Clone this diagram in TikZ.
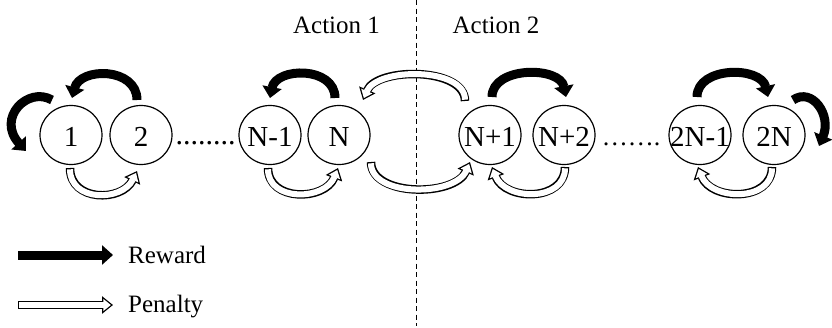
\documentclass[tikz,border=0pt]{standalone}
\usepackage{fontspec}
\setmainfont{Liberation Serif}
\usetikzlibrary{arrows.meta,shapes.geometric,calc}

% hollow block arrow: black outline pass, then white core pass
\newcommand\penaltyarrow[1]{\draw[penout] #1; \draw[penin] #1;}

\begin{document}
\begin{tikzpicture}[x=1pt,y=-1pt,
  state/.style={ellipse, draw, line width=1.2pt, minimum width=62pt, minimum height=59pt, inner sep=0pt},
  statelabel/.style={anchor=base, font=\fontsize{29}{31}\selectfont, inner sep=0pt},
  caption/.style={anchor=base, font=\fontsize{25}{27}\selectfont, inner sep=0pt},
  gapdots/.style={anchor=base, inner sep=0pt},
  reward/.style={line width=9pt, -{Triangle[width=19pt,length=11pt]}},
  penout/.style={line width=8.5pt, -{Triangle[width=17pt,length=11pt]}},
  penin/.style={white, line width=6pt, shorten <=1.3pt, shorten >=2.1pt, -{Triangle[width=11.7pt,length=7.6pt]}},
  divider/.style={line width=1pt, dash pattern=on 5pt off 3.5pt}
]
\useasboundingbox (0,0) rectangle (832,327);

% states
\node[state] (s1)   at (71,135)  {};
\node[state] (s2)   at (141,135) {};
\node[state] (sNm)  at (270,135) {};
\node[state] (sN)   at (339,135) {};
\node[state] (sNp1) at (490,135) {};
\node[state] (sNp2) at (564,135) {};
\node[state] (s2Nm) at (700,135) {};
\node[state] (s2N)  at (774,135) {};

\node[statelabel] (l1)   at ($(s1)+(0,11)$)   {1};
\node[statelabel] (l2)   at ($(s2)+(0,11)$)   {2};
\node[statelabel] (lNm)  at ($(sNm)+(0,11)$)  {N-1};
\node[statelabel] (lN)   at ($(sN)+(0,11)$)   {N};
\node[statelabel] (lNp1) at ($(sNp1)+(0,11)$) {N+1};
\node[statelabel] (lNp2) at ($(sNp2)+(0,11)$) {N+2};
\node[statelabel] (l2Nm) at ($(s2Nm)+(0,11)$) {2N-1};
\node[statelabel] (l2N)  at ($(s2N)+(0,11)$)  {2N};

% omitted states
\node[gapdots, font=\fontsize{30}{32}\selectfont] (gapA) at (205.5,144) {........};
\node[gapdots, font=\fontsize{26}{28}\selectfont] (gapB) at (631,145) {…….};

% action regions
\coordinate (d0) at (416,0);
\coordinate (d1) at (416,326);
\draw[divider] (d0) -- (d1);
\node[caption] (act1) at (336.5,33) {Action 1};
\node[caption] (act2) at (496,33) {Action 2};

% reward transitions
\draw[reward] ($(s2)+(-4,-35)$) .. controls +(0,-33) and +(8,-31) .. ($(s1)+(1,-37)$);
\draw[reward] ($(s1)+(-19,-35)$) .. controls +(-24,-14) and +(-30,-33) .. ($(s1)+(-45,16)$);
\draw[reward] ($(sN)+(-4,-37)$) .. controls +(0,-32) and +(6,-31) .. ($(sNm)+(0,-37)$);
\draw[reward] ($(sNp1)+(2,-38)$) .. controls +(0,-31) and +(-6,-31) .. ($(sNp2)+(2,-38)$);
\draw[reward] ($(s2Nm)+(-3,-38)$) .. controls +(0,-31) and +(-7,-31) .. ($(s2N)+(-6,-38)$);
\draw[reward] ($(s2N)+(19,-35)$) .. controls +(19,-13) and +(13,-31) .. ($(s2N)+(45,11)$);

% penalty transitions
\penaltyarrow{($(s1)+(-1,33)$) .. controls +(0,34) and +(-15,31) .. ($(s2)+(-4,36)$)}
\penaltyarrow{($(sNm)+(-2,33)$) .. controls +(0,34) and +(-13,33) .. ($(sN)+(-1,33)$)}
\penaltyarrow{($(sN)+(32,27)$) .. controls +(0,35) and +(-15,35) .. ($(sNp1)+(-20,27)$)}
\penaltyarrow{($(sNp1)+(-25,-34)$) .. controls +(0,-34) and +(14,-33) .. ($(sN)+(24,-35)$)}
\penaltyarrow{($(sNp2)+(1,32)$) .. controls +(0,35) and +(13,34) .. ($(sNp1)+(2,32)$)}
\penaltyarrow{($(s2N)+(-2,32)$) .. controls +(0,35) and +(13,34) .. ($(s2Nm)+(-2,32)$)}

% legend
\coordinate (kR0) at (18,255);
\coordinate (kR1) at (113,255);
\draw[reward] (kR0) -- (kR1);
\node[caption, anchor=base west] (kRt) at (128,263) {Reward};
\coordinate (kP0) at (18,305);
\coordinate (kP1) at (113,305);
\penaltyarrow{(kP0) -- (kP1)}
\node[caption, anchor=base west] (kPt) at (128,312) {Penalty};
\end{tikzpicture}
\end{document}
